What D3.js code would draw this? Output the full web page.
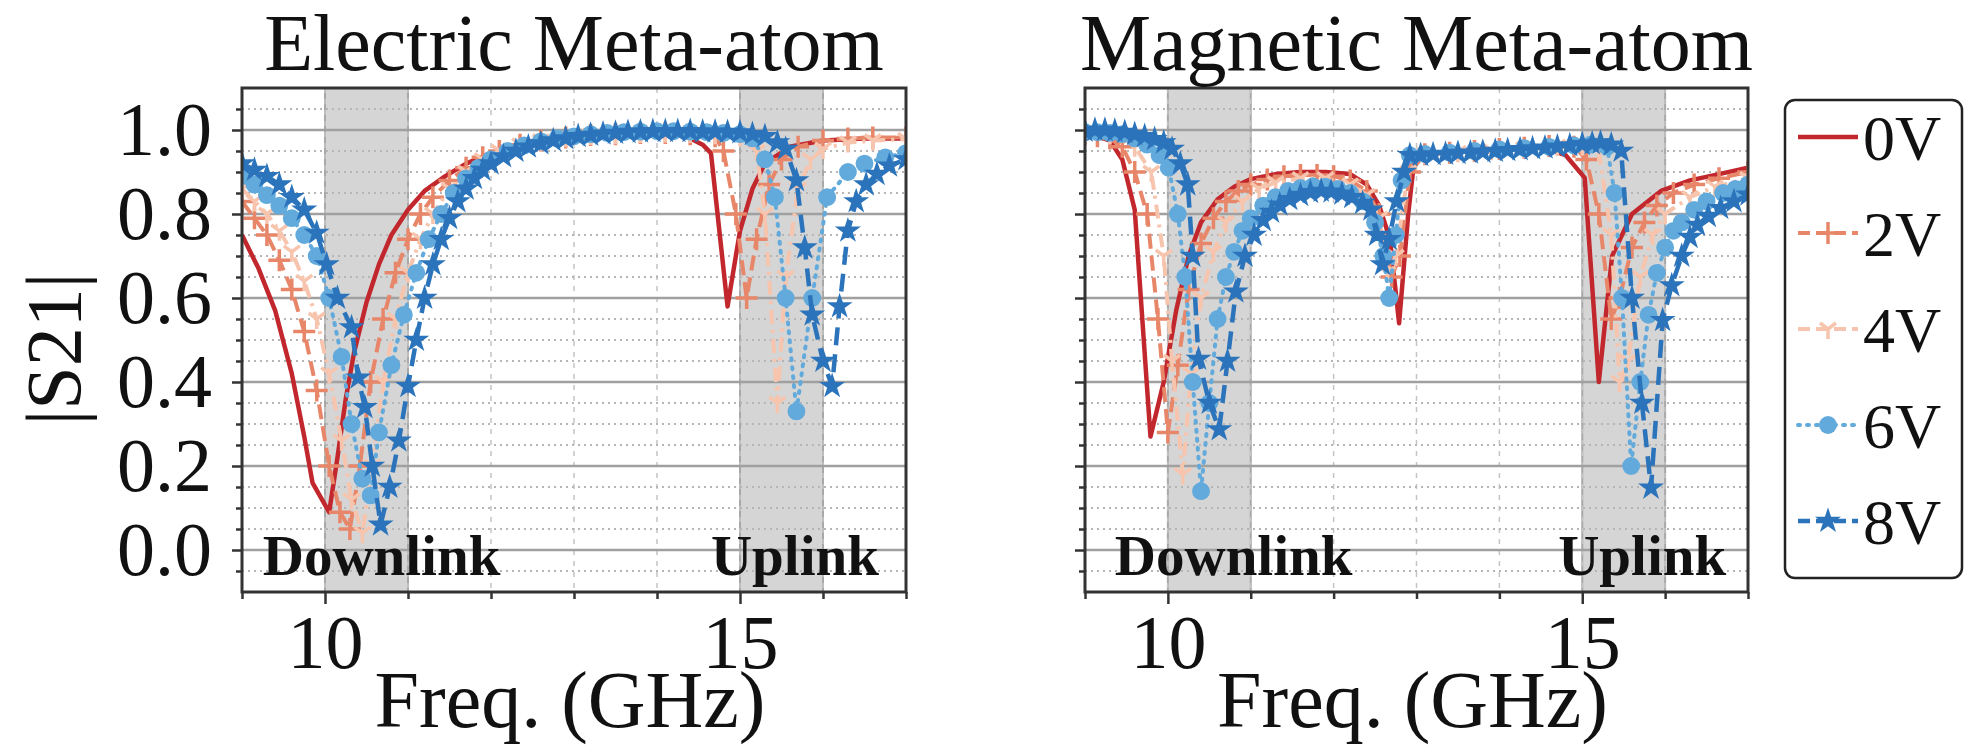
<!DOCTYPE html>
<html>
<head>
<meta charset="utf-8">
<script src="https://cdn.jsdelivr.net/npm/d3@7"></script>
<style>
body { margin: 0; background: #fff; }
svg text { font-family: "Liberation Serif", "DejaVu Serif", serif; fill: #111; }
</style>
</head>
<body>
<div id="chart"></div>
<script>
// ---- data: [freq GHz, |S21|] ----
var voltages = ["0V", "2V", "4V", "6V", "8V"];

var elec0V = [[9.0,0.75],[9.2,0.67],[9.4,0.57],[9.6,0.42],[9.75,0.27],[9.85,0.16],[10.05,0.09],[10.15,0.22],[10.25,0.36],[10.35,0.47],[10.5,0.59],[10.65,0.68],[10.8,0.75],[11.0,0.81],[11.2,0.855],[11.45,0.89],[11.7,0.92],[12.0,0.945],[12.4,0.965],[12.8,0.978],[13.3,0.985],[13.8,0.99],[14.3,0.99],[14.55,0.965],[14.65,0.945],[14.85,0.58],[15.0,0.76],[15.15,0.86],[15.3,0.92],[15.6,0.96],[16.0,0.975],[16.5,0.98],[17.0,0.98]];
var elec2V = [[9.0,0.83],[9.15,0.79],[9.3,0.75],[9.45,0.69],[9.6,0.62],[9.75,0.52],[9.9,0.38],[10.05,0.2],[10.18,0.09],[10.3,0.05],[10.42,0.2],[10.55,0.4],[10.7,0.55],[10.85,0.66],[11.0,0.74],[11.15,0.8],[11.3,0.84],[11.5,0.88],[11.7,0.91],[11.9,0.935],[12.1,0.95],[12.35,0.965],[12.6,0.975],[12.9,0.982],[13.2,0.988],[13.5,0.99],[13.8,0.993],[14.1,0.993],[14.4,0.99],[14.7,0.985],[14.8,0.95],[14.95,0.8],[15.08,0.6],[15.2,0.74],[15.35,0.87],[15.5,0.93],[15.7,0.96],[16.0,0.975],[16.3,0.98],[16.6,0.982],[17.0,0.982]];
var elec4V = [[9.0,0.86],[9.15,0.83],[9.3,0.8],[9.45,0.76],[9.6,0.71],[9.75,0.64],[9.9,0.55],[10.05,0.42],[10.2,0.26],[10.32,0.12],[10.45,0.04],[10.57,0.2],[10.7,0.4],[10.85,0.55],[11.0,0.66],[11.15,0.74],[11.3,0.8],[11.5,0.86],[11.7,0.9],[11.9,0.93],[12.1,0.95],[12.35,0.965],[12.6,0.975],[12.9,0.983],[13.2,0.988],[13.5,0.99],[13.8,0.993],[14.1,0.994],[14.4,0.993],[14.7,0.99],[15.0,0.985],[15.2,0.95],[15.3,0.8],[15.45,0.35],[15.55,0.65],[15.7,0.86],[15.85,0.93],[16.0,0.955],[16.3,0.97],[16.6,0.975],[17.0,0.978]];
var elec6V = [[9.0,0.89],[9.15,0.87],[9.3,0.845],[9.45,0.82],[9.6,0.79],[9.75,0.75],[9.9,0.7],[10.05,0.6],[10.2,0.46],[10.32,0.3],[10.45,0.17],[10.55,0.13],[10.65,0.28],[10.8,0.44],[10.95,0.56],[11.1,0.66],[11.25,0.74],[11.4,0.8],[11.55,0.85],[11.7,0.885],[11.85,0.91],[12.0,0.93],[12.2,0.95],[12.4,0.963],[12.6,0.973],[12.8,0.98],[13.0,0.985],[13.2,0.99],[13.4,0.993],[13.6,0.995],[13.8,0.996],[14.0,0.997],[14.2,0.997],[14.4,0.996],[14.6,0.995],[14.8,0.993],[15.0,0.99],[15.15,0.98],[15.3,0.93],[15.42,0.84],[15.55,0.6],[15.68,0.33],[15.87,0.6],[16.05,0.84],[16.3,0.9],[16.5,0.92],[16.75,0.935],[17.0,0.945]];
var elec8V = [[9.0,0.92],[9.15,0.905],[9.3,0.89],[9.45,0.87],[9.6,0.84],[9.75,0.81],[9.9,0.755],[10.02,0.68],[10.15,0.6],[10.32,0.53],[10.4,0.41],[10.48,0.34],[10.57,0.2],[10.67,0.06],[10.78,0.15],[10.89,0.26],[11.0,0.39],[11.1,0.5],[11.2,0.6],[11.3,0.68],[11.4,0.74],[11.5,0.79],[11.6,0.83],[11.7,0.86],[11.8,0.885],[11.9,0.905],[12.0,0.92],[12.15,0.937],[12.3,0.95],[12.45,0.96],[12.6,0.968],[12.75,0.975],[12.9,0.98],[13.05,0.985],[13.2,0.988],[13.35,0.991],[13.5,0.993],[13.65,0.995],[13.8,0.996],[13.95,0.997],[14.1,0.997],[14.25,0.997],[14.4,0.997],[14.55,0.996],[14.7,0.996],[14.85,0.995],[15.0,0.994],[15.15,0.99],[15.3,0.985],[15.45,0.97],[15.55,0.955],[15.68,0.88],[15.78,0.72],[15.87,0.56],[16.0,0.45],[16.11,0.39],[16.2,0.58],[16.3,0.76],[16.4,0.83],[16.52,0.87],[16.65,0.895],[16.8,0.915],[17.0,0.93]];

var magn0V = [[9.0,0.99],[9.15,0.985],[9.3,0.975],[9.45,0.93],[9.6,0.81],[9.79,0.27],[9.95,0.4],[10.1,0.57],[10.25,0.7],[10.4,0.78],[10.6,0.835],[10.8,0.865],[11.0,0.883],[11.3,0.895],[11.6,0.9],[11.9,0.9],[12.2,0.895],[12.4,0.87],[12.55,0.82],[12.68,0.74],[12.79,0.54],[12.9,0.8],[12.98,0.94],[13.3,0.945],[13.7,0.95],[14.1,0.955],[14.5,0.96],[14.8,0.94],[15.03,0.886],[15.2,0.4],[15.36,0.7],[15.6,0.8],[15.95,0.855],[16.3,0.88],[16.65,0.895],[17.0,0.91]];
var magn2V = [[9.0,0.99],[9.15,0.985],[9.3,0.98],[9.45,0.96],[9.6,0.9],[9.75,0.8],[9.88,0.55],[10.0,0.28],[10.12,0.44],[10.25,0.62],[10.4,0.73],[10.55,0.79],[10.7,0.83],[10.85,0.855],[11.0,0.87],[11.2,0.882],[11.4,0.89],[11.6,0.893],[11.8,0.893],[12.0,0.89],[12.2,0.88],[12.4,0.855],[12.55,0.8],[12.7,0.65],[12.8,0.7],[12.92,0.9],[13.1,0.942],[13.4,0.946],[13.7,0.95],[14.0,0.955],[14.3,0.958],[14.6,0.962],[14.9,0.96],[15.05,0.93],[15.2,0.8],[15.35,0.55],[15.45,0.6],[15.6,0.72],[15.75,0.78],[15.9,0.82],[16.1,0.85],[16.35,0.87],[16.65,0.885],[17.0,0.9]];
var magn4V = [[9.0,0.995],[9.3,0.99],[9.6,0.96],[9.8,0.9],[9.95,0.7],[10.05,0.45],[10.18,0.18],[10.28,0.42],[10.4,0.6],[10.55,0.71],[10.7,0.78],[10.9,0.83],[11.1,0.86],[11.3,0.875],[11.6,0.885],[11.9,0.885],[12.2,0.87],[12.4,0.845],[12.55,0.79],[12.65,0.66],[12.75,0.7],[12.9,0.9],[13.1,0.942],[13.5,0.947],[13.9,0.952],[14.3,0.957],[14.7,0.962],[15.0,0.963],[15.2,0.95],[15.35,0.75],[15.45,0.4],[15.55,0.45],[15.7,0.65],[15.85,0.75],[16.0,0.8],[16.3,0.84],[16.6,0.865],[17.0,0.885]];
var magn6V = [[9.0,0.995],[9.15,0.995],[9.3,0.993],[9.45,0.99],[9.6,0.98],[9.75,0.965],[9.9,0.94],[10.01,0.91],[10.12,0.8],[10.21,0.65],[10.3,0.4],[10.4,0.14],[10.5,0.35],[10.6,0.55],[10.7,0.65],[10.8,0.71],[10.9,0.76],[11.0,0.79],[11.15,0.82],[11.3,0.84],[11.45,0.855],[11.6,0.862],[11.75,0.866],[11.9,0.865],[12.05,0.86],[12.2,0.85],[12.35,0.83],[12.5,0.78],[12.6,0.7],[12.67,0.6],[12.75,0.75],[12.82,0.88],[12.92,0.94],[13.1,0.943],[13.4,0.946],[13.7,0.95],[14.0,0.954],[14.3,0.957],[14.6,0.96],[14.9,0.963],[15.1,0.965],[15.3,0.96],[15.39,0.85],[15.48,0.6],[15.59,0.2],[15.7,0.4],[15.8,0.56],[15.9,0.66],[16.0,0.72],[16.1,0.76],[16.2,0.78],[16.35,0.81],[16.5,0.83],[16.7,0.85],[16.85,0.86],[17.0,0.87]];
var magn8V = [[9.0,0.998],[9.12,1.0],[9.24,1.0],[9.36,0.998],[9.48,0.995],[9.6,0.99],[9.72,0.985],[9.84,0.978],[9.95,0.97],[10.05,0.955],[10.15,0.92],[10.24,0.87],[10.3,0.7],[10.37,0.455],[10.5,0.35],[10.62,0.287],[10.72,0.45],[10.82,0.615],[10.93,0.7],[11.04,0.75],[11.15,0.785],[11.25,0.805],[11.35,0.822],[11.47,0.835],[11.6,0.845],[11.72,0.852],[11.85,0.855],[11.97,0.853],[12.1,0.848],[12.22,0.84],[12.35,0.826],[12.45,0.81],[12.52,0.75],[12.59,0.68],[12.67,0.74],[12.76,0.83],[12.85,0.9],[12.92,0.94],[13.05,0.94],[13.2,0.942],[13.35,0.943],[13.5,0.945],[13.65,0.946],[13.8,0.948],[13.95,0.95],[14.1,0.952],[14.25,0.954],[14.4,0.956],[14.55,0.958],[14.7,0.96],[14.85,0.963],[15.0,0.966],[15.12,0.968],[15.22,0.97],[15.35,0.965],[15.47,0.95],[15.6,0.6],[15.72,0.35],[15.83,0.148],[15.97,0.547],[16.08,0.63],[16.2,0.7],[16.3,0.745],[16.39,0.774],[16.52,0.795],[16.67,0.814],[16.83,0.83],[17.0,0.846]];

var yMajorTicks = [0.0, 0.2, 0.4, 0.6, 0.8, 1.0];
var yMinorTicks = [-0.05,0.05,0.1,0.15,0.25,0.3,0.35,0.45,0.5,0.55,0.65,0.7,0.75,0.85,0.9,0.95,1.05];
var xMajorTicks = [10, 15];
var xMinorTicks = [9, 11, 12, 13, 14, 16, 17];
var bands = [[10, 11], [15, 16]]; // downlink / uplink
var bandLabels = ["Downlink", "Uplink"];

// ---- styling per voltage ----
var styles = [
    {color:"#c1272d", width:4.5, dash:null, marker:null},
    {color:"#e8866a", width:4, dash:"15,7", marker:"plus"},
    {color:"#f7c4ad", width:4, dash:"14,6,3,6", marker:"tri"},
    {color:"#62aadb", width:4, dash:"2,7", marker:"circle"},
    {color:"#2b74bb", width:4.5, dash:"18,9", marker:"star"}
];

var panels = [
    {title:"Electric Meta-atom", left:242, right:906, series:[elec0V, elec2V, elec4V, elec6V, elec8V], yLabels:true, bandTextX:[9.25, 14.65]},
    {title:"Magnetic Meta-atom", left:1085, right:1748, series:[magn0V, magn2V, magn4V, magn6V, magn8V], yLabels:false, bandTextX:[9.36, 14.71]}
];

var W = 1964, H = 748, top_ = 88, bottom_ = 592;

var svg = d3.select("#chart").append("svg")
    .attr("width", W).attr("height", H);

var yScale = d3.scaleLinear().domain([-0.1, 1.1]).range([bottom_, top_]);

// marker path generator
function markerPath(type) {
    if (type == "plus") return "M-11,0H11M0,-11V11";
    if (type == "tri") return "M0,0V10M0,0L-8,-6M0,0L8,-6";
    if (type == "circle") return d3.symbol().type(d3.symbolCircle).size(250)();
    if (type == "star") return d3.symbol().type(d3.symbolStar).size(210)();
    return "";
}
function styleMarker(sel, st) {
    if (st.marker == "plus" || st.marker == "tri") {
        sel.attr("fill", "none").attr("stroke", st.color).attr("stroke-width", 3.5);
    } else {
        sel.attr("fill", st.color).attr("stroke", "none");
    }
}

panels.forEach(function(p, pi) {
    var xScale = d3.scaleLinear().domain([9, 17]).range([p.left, p.right]);
    var g = svg.append("g");

    // clip to plot box
    g.append("clipPath").attr("id", "clip" + pi)
        .append("rect").attr("x", p.left).attr("y", top_)
        .attr("width", p.right - p.left).attr("height", bottom_ - top_);

    // shaded bands
    g.selectAll(".band").data(bands).enter().append("rect")
        .attr("x", function(d) { return xScale(d[0]); })
        .attr("y", top_)
        .attr("width", function(d) { return xScale(d[1]) - xScale(d[0]); })
        .attr("height", bottom_ - top_)
        .attr("fill", "#d5d5d5")
        .attr("stroke", "#a8a8a8").attr("stroke-width", 2);

    // grid
    g.selectAll(".vgrid").data(d3.range(10, 17)).enter().append("line")
        .attr("x1", function(d) { return xScale(d); }).attr("x2", function(d) { return xScale(d); })
        .attr("y1", top_).attr("y2", bottom_)
        .attr("stroke", "#c4c4c4").attr("stroke-width", 1.5).attr("stroke-dasharray", "5,6");
    g.selectAll(".hminor").data(yMinorTicks).enter().append("line")
        .attr("x1", p.left).attr("x2", p.right)
        .attr("y1", function(d) { return yScale(d); }).attr("y2", function(d) { return yScale(d); })
        .attr("stroke", "#b5b5b5").attr("stroke-width", 2).attr("stroke-dasharray", "2,4");
    g.selectAll(".hmajor").data(yMajorTicks).enter().append("line")
        .attr("x1", p.left).attr("x2", p.right)
        .attr("y1", function(d) { return yScale(d); }).attr("y2", function(d) { return yScale(d); })
        .attr("stroke", "#a0a0a0").attr("stroke-width", 2.5);

    // curves
    var line = d3.line()
        .x(function(d) { return xScale(d[0]); })
        .y(function(d) { return yScale(d[1]); });
    var curves = g.append("g").attr("clip-path", "url(#clip" + pi + ")");
    p.series.forEach(function(data, si) {
        var st = styles[si];
        curves.append("path").datum(data)
            .attr("d", line)
            .attr("fill", "none")
            .attr("stroke", st.color)
            .attr("stroke-width", st.width)
            .attr("stroke-dasharray", st.dash)
            .attr("stroke-linecap", st.marker == "circle" ? "round" : "butt")
            .attr("stroke-linejoin", "round");
        if (st.marker) {
            curves.selectAll(".m" + si).data(data).enter().append("path")
                .attr("transform", function(d) { return "translate(" + xScale(d[0]) + "," + yScale(d[1]) + ")"; })
                .attr("d", markerPath(st.marker))
                .call(styleMarker, st);
        }
    });

    // band labels
    g.selectAll(".blab").data(bandLabels).enter().append("text")
        .attr("x", function(d, i) { return xScale(p.bandTextX[i]); })
        .attr("y", yScale(-0.06))
        .attr("font-size", 57).attr("font-weight", "bold")
        .text(function(d) { return d; });

    // axes
    var yMajor = d3.axisLeft(yScale).tickValues(yMajorTicks).tickSize(10).tickPadding(20)
        .tickFormat(p.yLabels ? d3.format(".1f") : "");
    var yMinor = d3.axisLeft(yScale).tickValues(yMinorTicks).tickSize(6).tickFormat("");
    var xMajor = d3.axisBottom(xScale).tickValues(xMajorTicks).tickSize(12).tickPadding(10);
    var xMinor = d3.axisBottom(xScale).tickValues(xMinorTicks).tickSize(7).tickFormat("");

    [[yMajor, "translate(" + p.left + ",0)"], [yMinor, "translate(" + p.left + ",0)"],
     [xMajor, "translate(0," + bottom_ + ")"], [xMinor, "translate(0," + bottom_ + ")"]].forEach(function(a) {
        var ax = g.append("g").attr("transform", a[1]).call(a[0]);
        ax.select(".domain").remove();
        ax.selectAll(".tick text").filter(function() { return this.textContent == ""; }).remove();
        ax.selectAll(".tick line").attr("stroke", "#333").attr("stroke-width", 2.5);
        ax.selectAll(".tick text").attr("font-size", 76).attr("fill", "#111")
            .attr("font-family", "Liberation Serif, serif");
    });

    // frame
    g.append("rect").attr("x", p.left).attr("y", top_)
        .attr("width", p.right - p.left).attr("height", bottom_ - top_)
        .attr("fill", "none").attr("stroke", "#333").attr("stroke-width", 3);

    // titles
    g.append("text").attr("x", (p.left + p.right) / 2).attr("y", 70)
        .attr("text-anchor", "middle").attr("font-size", 80).text(p.title);
    g.append("text").attr("x", (p.left + p.right) / 2 - 4).attr("y", 727)
        .attr("text-anchor", "middle").attr("font-size", 80).text("Freq. (GHz)");
});

// y label
svg.append("text")
    .attr("transform", "translate(80,349) rotate(-90)")
    .attr("text-anchor", "middle").attr("font-size", 78).text("|S21|");

// legend
var leg = svg.append("g");
leg.append("rect").attr("x", 1785).attr("y", 100).attr("width", 177).attr("height", 478)
    .attr("rx", 10).attr("fill", "#fff").attr("stroke", "#222").attr("stroke-width", 2.5);
var legY = d3.scalePoint().domain(voltages).range([137, 521]);
voltages.forEach(function(v, i) {
    var st = styles[i], y = legY(v);
    leg.append("line").attr("x1", 1798).attr("x2", 1858).attr("y1", y).attr("y2", y)
        .attr("stroke", st.color).attr("stroke-width", st.width)
        .attr("stroke-dasharray", st.dash ? (i == 3 ? "2,7" : "12,6") : null)
        .attr("stroke-linecap", i == 3 ? "round" : "butt");
    if (st.marker) {
        leg.append("path").attr("transform", "translate(1828," + y + ")")
            .attr("d", markerPath(st.marker)).call(styleMarker, st);
    }
    leg.append("text").attr("x", 1863).attr("y", y + 23).attr("font-size", 64).text(v);
});
</script>
</body>
</html>
